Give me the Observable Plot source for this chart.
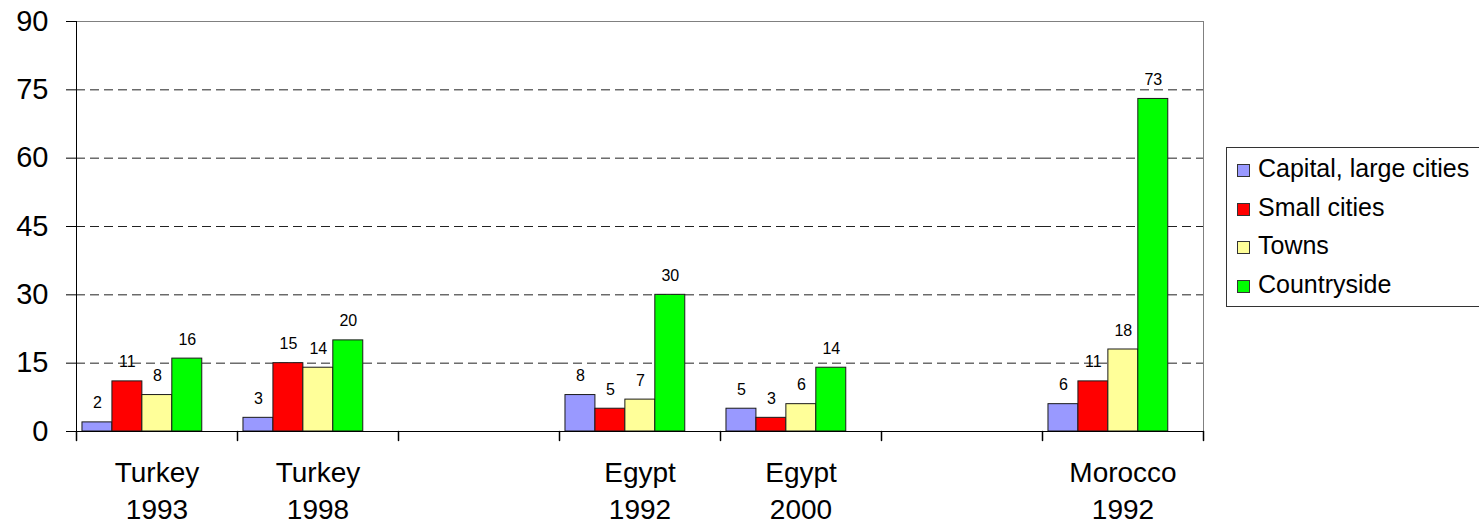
<!DOCTYPE html>
<html>
<head>
<meta charset="utf-8">
<script src="https://cdn.jsdelivr.net/npm/d3@7"></script>
<script src="https://cdn.jsdelivr.net/npm/@observablehq/plot@0.6"></script>
<style>
  body { margin: 0; background: #fff; font-family: "Liberation Sans", Arial, sans-serif; }
  #chart { position: relative; width: 1479px; height: 526px; overflow: hidden; }
  #legend {
    position: absolute; left: 1226px; top: 147px; width: 290px; height: 160px;
    box-sizing: border-box; border: 1px solid #333; background: #fff;
    padding: 1px 0 0 10px; color: #000;
  }
  .row { height: 38.5px; line-height: 38.5px; font-size: 25px; white-space: nowrap; }
  .swatch {
    display: inline-block; width: 11px; height: 11px; border: 1px solid #333;
    margin-right: 8px; vertical-align: baseline;
  }
</style>
</head>
<body>
<div id="chart"></div>
<script>
// Category slots along the bottom; the two blank slots are empty gaps in the layout.
const categories = ["Turkey\n1993", "Turkey\n1998", "", "Egypt\n1992", "Egypt\n2000", " ", "Morocco\n1992"];
const seriesNames = ["Capital, large cities", "Small cities", "Towns", "Countryside"];
const seriesColors = ["#9999FF", "#FF0000", "#FFFF99", "#00FF00"];

// Values per series, one entry per category slot (null = no bar).
const capital     = [2, 3, null, 8, 5, null, 6];
const smallCities = [11, 15, null, 5, 3, null, 11];
const towns       = [8, 14, null, 7, 6, null, 18];
const countryside = [16, 20, null, 30, 14, null, 73];

const yTicks = [0, 15, 30, 45, 60, 75, 90];

// Long table for Plot: one row per bar.
const seriesValues = [capital, smallCities, towns, countryside];
const rows = [];
seriesValues.forEach((vals, s) => {
  vals.forEach((v, c) => {
    if (v != null) rows.push({slot: categories[c], series: seriesNames[s], value: v});
  });
});

// Short downward stroke used for the category separator ticks.
const tickLine = {
  draw(context, l) { context.moveTo(0, 0); context.lineTo(0, -l); }
};

const chart = Plot.plot({
  width: 1479,
  height: 526,
  marginLeft: 75,
  marginRight: 275,
  marginTop: 21,
  marginBottom: 95,
  style: {fontFamily: '"Liberation Sans", Arial, sans-serif', color: "#000", background: "#fff", overflow: "visible"},
  fx: {domain: categories, padding: 0},
  x: {domain: seriesNames, paddingInner: 0, paddingOuter: 0.688, align: 0.145, axis: null, round: false},
  y: {domain: [0, 90]},
  color: {domain: seriesNames, range: seriesColors},
  marks: [
    Plot.ruleY(yTicks.filter(t => t > 0 && t < 90), {stroke: "#222", strokeDasharray: "9,5"}),
    Plot.frame({facet: "super", anchor: "top", stroke: "#808080"}),
    Plot.frame({facet: "super", anchor: "right", stroke: "#808080"}),
    Plot.barY(rows, {fx: "slot", x: "series", y: "value", fill: "series", stroke: "#1a1a1a", strokeWidth: 1}),
    Plot.text(rows, {fx: "slot", x: "series", y: "value", text: d => String(d.value), lineAnchor: "bottom", dy: -14, fontSize: 16, fill: "#000"}),
    Plot.frame({facet: "super", anchor: "left", stroke: "#000"}),
    Plot.frame({facet: "super", anchor: "bottom", stroke: "#000"}),
    Plot.vector(categories, {fx: d => d, frameAnchor: "bottom-left", length: 9, rotate: 180, anchor: "start", shape: tickLine, stroke: "#000"}),
    Plot.vector(categories.slice(-1), {fx: d => d, frameAnchor: "bottom-right", length: 9, rotate: 180, anchor: "start", shape: tickLine, stroke: "#000"}),
    Plot.axisY({ticks: yTicks, tickSize: 10, tickPadding: 18, fontSize: 29, label: null}),
    Plot.axisFx({anchor: "bottom", tickSize: 0, tickPadding: 25, fontSize: 28, lineHeight: 1.3, label: null})
  ]
});

const host = document.getElementById("chart");
host.appendChild(chart);

// Boxed legend on the right of the plot area.
const legend = document.createElement("div");
legend.id = "legend";
seriesNames.forEach((name, i) => {
  const row = document.createElement("div");
  row.className = "row";
  const sw = document.createElement("span");
  sw.className = "swatch";
  sw.style.background = seriesColors[i];
  row.appendChild(sw);
  row.appendChild(document.createTextNode(name));
  legend.appendChild(row);
});
host.appendChild(legend);
</script>
</body>
</html>
